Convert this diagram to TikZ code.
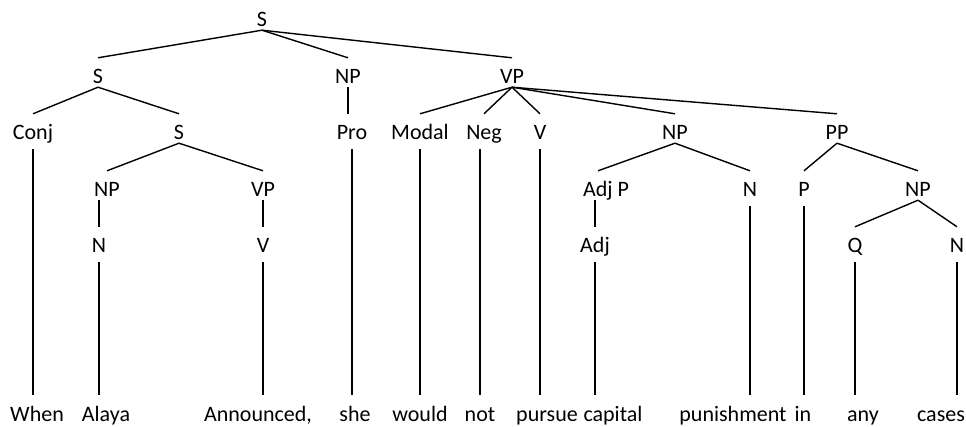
\documentclass[tikz,border=0pt]{standalone}
\usepackage{fontspec}
\setmainfont{Carlito}

\begin{document}
\begin{tikzpicture}[
    x=1pt, y=-1pt,
    cat/.style={inner sep=0pt, anchor=base, text height=26pt, text depth=3pt,
      font=\fontsize{22}{26}\selectfont},
    branch/.style={line width=1.4pt},
    stem/.style={line width=1.4pt, shorten <=6pt}
    ]
    \useasboundingbox (0,0) rectangle (966,427);

    % categories
    \node[cat] (s0) at (262,27) {S};

    \node[cat] (s1) at (98,84) {S};
    \node[cat] (np1) at (348,84) {NP};
    \node[cat] (vp1) at (512,84) {VP};

    \node[cat] (conj) at (33,140) {Conj};
    \node[cat] (s2) at (179,140) {S};
    \node[cat] (pro) at (352,140) {Pro};
    \node[cat] (modal) at (420,140) {Modal};
    \node[cat] (neg) at (484,140) {Neg};
    \node[cat] (v1) at (540,140) {V};
    \node[cat] (np2) at (675,140) {NP};
    \node[cat] (pp) at (837,140) {PP};

    \node[cat] (np3) at (107,197) {NP};
    \node[cat] (vp3) at (263,197) {VP};
    \node[cat] (adjp) at (606,197) {Adj P};
    \node[cat] (n3) at (750,197) {N};
    \node[cat] (p3) at (804,197) {P};
    \node[cat] (np4) at (918,197) {NP};

    \node[cat] (n4) at (99,253) {N};
    \node[cat] (v4) at (263,253) {V};
    \node[cat] (adj) at (595,253) {Adj};
    \node[cat] (q) at (855,253) {Q};
    \node[cat] (n5) at (957,253) {N};

    % words
    \node[cat] (when) at (37,421) {When};
    \node[cat] (alaya) at (106,421) {Alaya};
    \node[cat] (announced) at (258,421) {Announced,};
    \node[cat] (she) at (355,421) {she};
    \node[cat] (would) at (420,421) {would};
    \node[cat] (not) at (480,421) {not};
    \node[cat] (pursue) at (547,421) {pursue};
    \node[cat] (capital) at (613,421) {capital};
    \node[cat] (punishment) at (733,421) {punishment};
    \node[cat] (in) at (803,421) {in};
    \node[cat] (any) at (863,421) {any};
    \node[cat] (cases) at (941,421) {cases};

    % branches
    \path (s0.south) edge[branch] (s1.north)
    (s0.south) edge[branch] (np1.north)
    (s0.south) edge[branch] (vp1.north)
    (s1.south) edge[branch] (conj.north)
    (s1.south) edge[branch] (s2.north)
    (np1.south) edge[branch] (np1.south |- pro.north)
    (vp1.south) edge[branch] (modal.north)
    (vp1.south) edge[branch] (neg.north)
    (vp1.south) edge[branch] (v1.north)
    (vp1.south) edge[branch] (np2.north)
    (vp1.south) edge[branch] (pp.north)
    (s2.south) edge[branch] (np3.north)
    (s2.south) edge[branch] (vp3.north)
    (np2.south) edge[branch] ([xshift=-8pt]adjp.north)
    (np2.south) edge[branch] (n3.north)
    (pp.south) edge[branch] (p3.north)
    (pp.south) edge[branch] (np4.north)
    (n4.north |- np3.south) edge[branch] (n4.north)
    (vp3.south) edge[branch] (vp3.south |- v4.north)
    (adj.north |- adjp.south) edge[branch] (adj.north)
    (np4.south) edge[branch] (q.north)
    (np4.south) edge[branch] (n5.north)
    ;

    % stems down to the words
    \path (conj.south) edge[stem] (conj.south |- when.north)
    (n4.south) edge[stem] (n4.south |- alaya.north)
    (v4.south) edge[stem] (v4.south |- announced.north)
    (pro.south) edge[stem] (pro.south |- she.north)
    (modal.south) edge[stem] (modal.south |- would.north)
    (not.north |- neg.south) edge[stem] (not.north)
    (v1.south) edge[stem] (v1.south |- pursue.north)
    (adj.south) edge[stem] (adj.south |- capital.north)
    (n3.south) edge[stem] (n3.south |- punishment.north)
    (p3.south) edge[stem] (p3.south |- in.north)
    (q.south) edge[stem] (q.south |- any.north)
    (n5.south) edge[stem] (n5.south |- cases.north)
    ;

  \end{tikzpicture}
\end{document}
